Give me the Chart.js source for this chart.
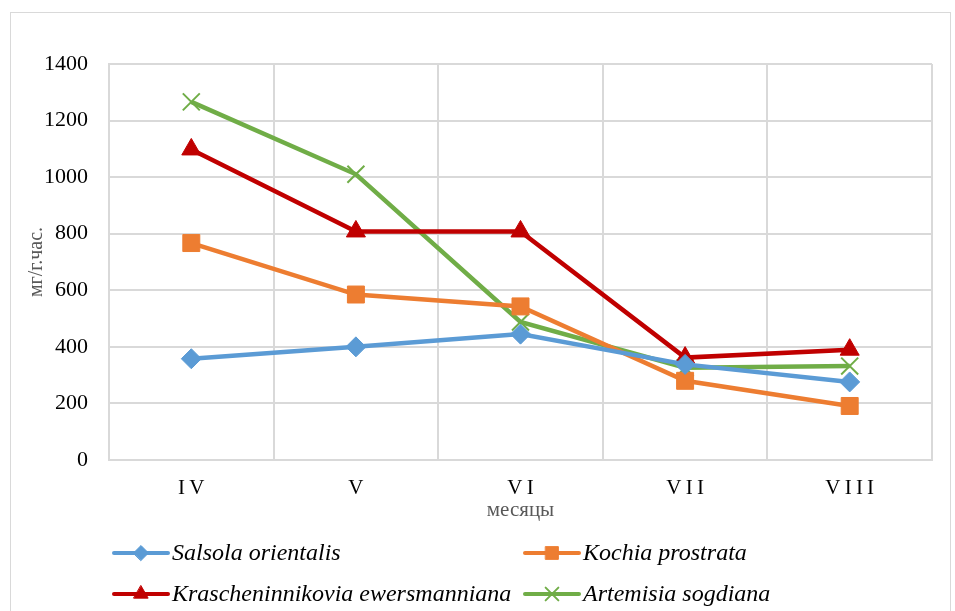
<!DOCTYPE html>
<html>
<head>
<meta charset="utf-8">
<script src="https://cdn.jsdelivr.net/npm/chart.js@4/dist/chart.umd.min.js"></script>
<style>
  html, body { margin: 0; padding: 0; background: #fff; }
  #wrap { position: relative; width: 955px; height: 611px; }
  #frame { position: absolute; left: 10px; top: 12px; width: 941px; height: 620px; border: 1px solid #d9d9d9; box-sizing: border-box; pointer-events: none; }
  canvas { position: absolute; left: 0; top: 0; }
</style>
</head>
<body>
<div id="wrap">
  <div id="frame"></div>
  <canvas id="c" width="955" height="611"></canvas>
</div>
<script>
var months = ['IV', 'V', 'VI', 'VII', 'VIII'];
var salsola = [358, 400, 445, 338, 276];
var kochia = [767, 585, 543, 280, 191];
var krasch = [1098, 808, 808, 362, 390];
var artemisia = [1266, 1010, 488, 326, 332];
var yTicks = [0, 200, 400, 600, 800, 1000, 1200, 1400];

var serif = '"Liberation Serif", "Times New Roman", serif';
var gc = '#d9d9d9';

function ds(label, data, color, style, radius, bw) {
  return {
    label: label, data: data, borderColor: color, backgroundColor: color,
    borderWidth: 4.5, tension: 0, pointStyle: style, pointRadius: radius,
    pointHoverRadius: radius, pointBorderWidth: bw || 1, pointBorderColor: color,
    pointBackgroundColor: color
  };
}

// legend drawn in two fixed columns, like the spreadsheet one
var legendCols = [114, 525];
var legendRows = [553, 594];
var legendPlugin = {
  id: 'twoColLegend',
  afterDraw: function(chart) {
    var ctx = chart.ctx;
    chart.data.datasets.forEach(function(d, i) {
      var x = legendCols[i % 2], y = legendRows[Math.floor(i / 2)];
      ctx.save();
      ctx.strokeStyle = d.borderColor;
      ctx.lineWidth = 4;
      ctx.lineCap = 'round';
      ctx.beginPath(); ctx.moveTo(x, y); ctx.lineTo(x + 54, y); ctx.stroke();
      ctx.fillStyle = d.pointBackgroundColor;
      ctx.strokeStyle = d.pointBorderColor;
      ctx.lineWidth = d.pointBorderWidth;
      Chart.helpers.drawPoint(ctx, { pointStyle: d.pointStyle, radius: d.pointRadius * 0.75, borderWidth: d.pointBorderWidth, rotation: 0 }, x + 27, y);
      ctx.fillStyle = '#000';
      ctx.font = 'italic 24px ' + serif;
      ctx.textBaseline = 'middle';
      ctx.fillText(d.label, x + 58, y + 1);
      ctx.restore();
    });
  }
};

new Chart(document.getElementById('c'), {
  type: 'line',
  data: {
    labels: months,
    datasets: [
      ds('Salsola orientalis', salsola, '#5b9bd5', 'rectRot', 10),
      ds('Kochia prostrata', kochia, '#ed7d31', 'rect', 12),
      ds('Krascheninnikovia ewersmanniana', krasch, '#c00000', 'triangle', 11),
      ds('Artemisia sogdiana', artemisia, '#70ad47', 'crossRot', 12, 2)
    ]
  },
  options: {
    responsive: false,
    animation: false,
    layout: { padding: { left: 12, top: 64, right: 23, bottom: 88 } },
    plugins: { legend: { display: false }, tooltip: { enabled: false } },
    scales: {
      x: {
        offset: true,
        grid: { color: gc, lineWidth: 2, offset: true, drawTicks: false },
        border: { color: gc, width: 2 },
        ticks: {
          color: '#000', padding: 16, font: { family: serif, size: 21 },
          callback: function(v) { return months[v].split('').join('\u2009'); }
        },
        title: { display: true, text: 'месяцы', color: '#595959', padding: { top: 8, bottom: 0 }, font: { family: serif, size: 21 } },
        afterFit: function(s) { s.height = 63; }
      },
      y: {
        min: 0, max: 1400,
        afterBuildTicks: function(s) { s.ticks = yTicks.map(function(v) { return { value: v }; }); },
        grid: { color: gc, lineWidth: 2, drawTicks: false },
        border: { color: gc, width: 2 },
        ticks: { color: '#000', padding: 21, font: { family: serif, size: 22 }, callback: function(v) { return String(v); } },
        title: { display: true, text: 'мг/г.час.', color: '#595959', padding: { top: 13, bottom: 0 }, font: { family: serif, size: 20 } },
        afterFit: function(s) { s.width = 97; }
      }
    }
  },
  plugins: [legendPlugin]
});
</script>
</body>
</html>
